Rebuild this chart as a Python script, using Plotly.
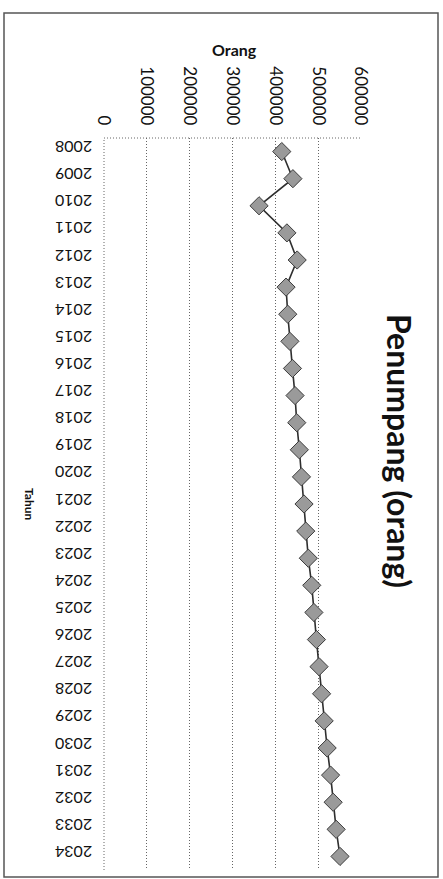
import plotly.graph_objects as go

years = [str(y) for y in range(2008, 2035)]
penumpang = [415000, 441000, 362000, 427000, 451000, 425000, 429000, 434000, 440000,
             446000, 450000, 456000, 461000, 467000, 471000, 477000, 485000, 490000,
             496000, 502000, 508000, 514000, 521000, 529000, 535000, 542000, 551000]
x_ticks = [0, 100000, 200000, 300000, 400000, 500000, 600000]

W, H = 443, 879
L, T = 104, 138
R = W - 361
B = H - 870
pw, ph = W - L - R, H - T - B

def px(x):
    return (x - L) / pw

def py(y):
    return (H - B - y) / ph

GRID = "#666666"

fig = go.Figure()
fig.add_trace(go.Scatter(
    x=penumpang, y=years, mode="lines+markers",
    line=dict(color="#2e2e2e", width=1.6),
    marker=dict(symbol="diamond", size=14, color="#9a9a9a",
                line=dict(color="#3c3c3c", width=1)),
    showlegend=False,
))

fig.update_layout(
    width=W, height=H,
    margin=dict(l=L, r=R, t=T, b=B),
    paper_bgcolor="white", plot_bgcolor="white",
    font=dict(family="Lato, Open Sans, sans-serif", color="#111"),
    xaxis=dict(
        side="top", range=[0, 600000], tickvals=x_ticks,
        ticktext=[str(v) for v in x_ticks], tickangle=90,
        tickfont=dict(size=17, color="#111"),
        showgrid=True, gridcolor=GRID, griddash="1px,2px", gridwidth=1,
        zeroline=False, showline=False, ticks="", fixedrange=True,
        ticklabelstandoff=9,
    ),
    yaxis=dict(
        type="category", categoryorder="array", categoryarray=years,
        range=[len(years) - 0.5, -0.5], autorange=False,
        tickangle=180,
        tickfont=dict(size=16, color="#111"),
        showgrid=False, zeroline=False, showline=False, ticks="",
        ticklabelstandoff=48, fixedrange=True,
    ),
    shapes=[
        dict(type="line", xref="paper", yref="paper", x0=0, x1=1, y0=1, y1=1,
             line=dict(color=GRID, width=1, dash="1px,2px")),
        dict(type="line", xref="paper", yref="paper", x0=0, x1=0, y0=0, y1=1,
             line=dict(color=GRID, width=1, dash="1px,2px")),
        dict(type="rect", xref="paper", yref="paper",
             x0=px(4), x1=px(438), y0=py(877), y1=py(13),
             line=dict(color="#555", width=1.5)),
    ],
    annotations=[
        dict(text="<b>Penumpang (orang)</b>", xref="paper", yref="paper",
             x=px(400), y=py(451), xanchor="center", yanchor="middle",
             showarrow=False, textangle=90,
             font=dict(size=32, color="#111")),
        dict(text="<b>Orang</b>", xref="paper", yref="paper",
             x=px(234), y=py(49), xanchor="center", yanchor="middle",
             showarrow=False, font=dict(size=16, color="#111")),
        dict(text="<b>Tahun</b>", xref="paper", yref="paper",
             x=px(30), y=py(504), xanchor="center", yanchor="middle",
             showarrow=False, textangle=90,
             font=dict(size=12, color="#111")),
    ],
)

fig.write_html("out.html", config={"displayModeBar": False},
               post_script="document.body.style.margin='0';document.body.style.overflow='hidden';")
